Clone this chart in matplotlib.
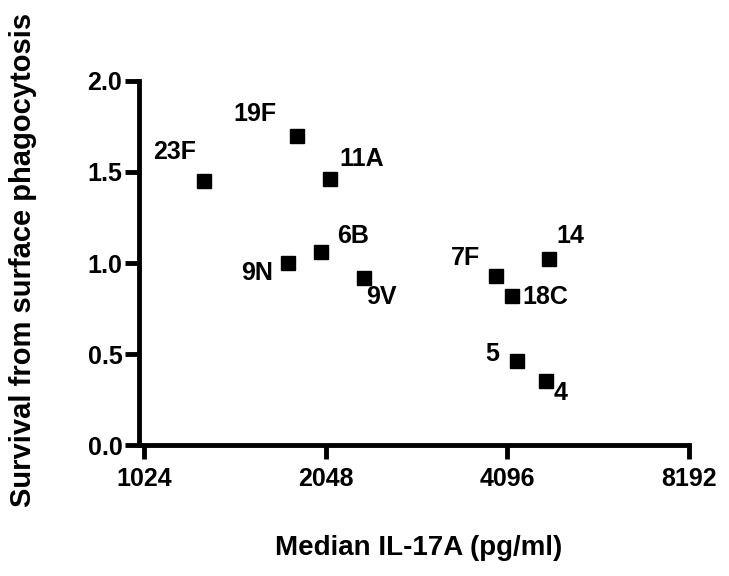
import matplotlib
matplotlib.use("Agg")
import matplotlib.pyplot as plt

# serotype data: median IL-17A (pg/ml) vs survival from surface phagocytosis
serotypes = ["23F", "19F", "11A", "9N", "6B", "9V", "7F", "18C", "14", "5", "4"]
il17a = [1287, 1833, 2079, 1772, 2011, 2374, 3925, 4173, 4809, 4255, 4740]
survival = [1.45, 1.70, 1.46, 1.00, 1.06, 0.92, 0.93, 0.82, 1.02, 0.46, 0.35]

x_ticks = [1024, 2048, 4096, 8192]
y_ticks = [0.0, 0.5, 1.0, 1.5, 2.0]

# label offsets in pixels relative to each point
label_offsets = {
    "23F": (-29, 29), "19F": (-42, 22), "11A": (32, 20), "9N": (-31, -10),
    "6B": (32, 16), "9V": (17, -19), "7F": (-31, 18), "18C": (33, -1),
    "14": (21, 23), "5": (-25, 7), "4": (15, -12),
}

plt.rcParams["font.family"] = ["Liberation Sans", "DejaVu Sans"]
plt.rcParams["font.weight"] = "bold"

fig = plt.figure(figsize=(7.29, 5.76), dpi=100)
ax = fig.add_axes([0.1907, 0.2274, 0.7544, 0.632])

ax.plot(il17a, survival, "s", color="black", markersize=10, clip_on=False)

for name, x, y in zip(serotypes, il17a, survival):
    ax.annotate(name, (x, y), xytext=label_offsets[name], textcoords="offset pixels",
                ha="center", va="center", fontsize=18, fontweight="bold")

ax.set_xscale("log", base=2)
ax.set_xlim(1005, 8192)
ax.set_ylim(0, 2.0)
ax.set_xticks(x_ticks)
ax.set_xticklabels([str(t) for t in x_ticks])
ax.minorticks_off()
ax.set_yticks(y_ticks)
ax.set_yticklabels(["%.1f" % t for t in y_ticks])

for side in ["top", "right"]:
    ax.spines[side].set_visible(False)
for side in ["left", "bottom"]:
    ax.spines[side].set_linewidth(3.5)
    ax.spines[side].set_capstyle("projecting")

ax.tick_params(axis="both", width=3.5, length=10, labelsize=18, pad=2)
ax.tick_params(axis="x", pad=6)

ax.set_xlabel("Median IL-17A (pg/ml)", fontsize=20, fontweight="bold")
ax.set_ylabel("Survival from surface phagocytosis", fontsize=21, fontweight="bold")
ax.xaxis.set_label_coords(0.509, -0.248)
ax.yaxis.set_label_coords(-0.186, 0.508)

fig.savefig("out.png", dpi=100)
